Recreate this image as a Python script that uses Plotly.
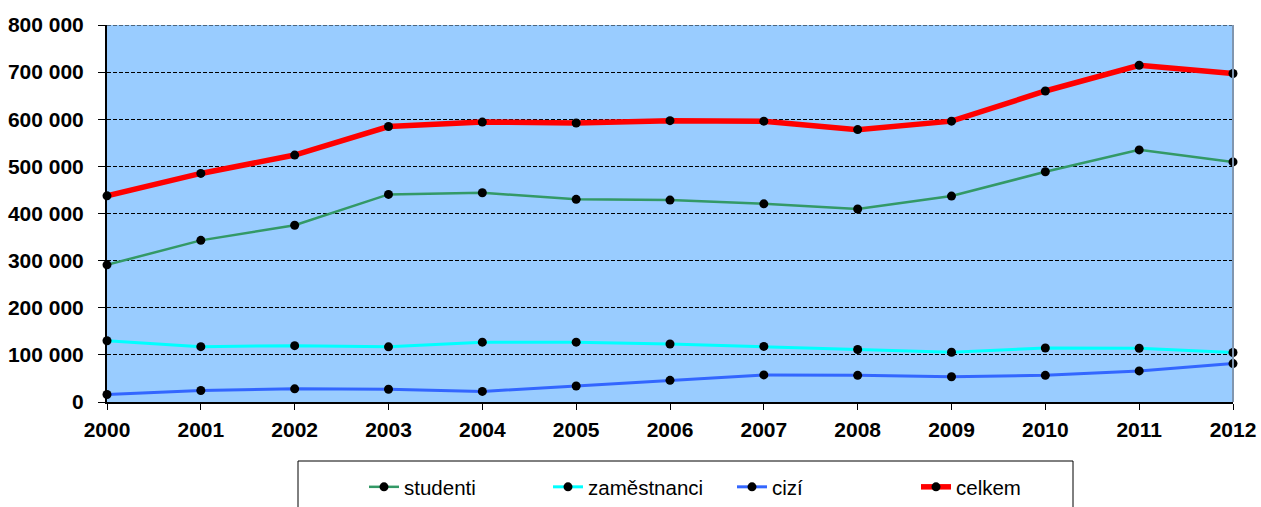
import plotly.graph_objects as go

years = [2000, 2001, 2002, 2003, 2004, 2005, 2006, 2007, 2008, 2009, 2010, 2011, 2012]
studenti = [291000, 343000, 375000, 440500, 444000, 430000, 428500, 420500, 409500, 437000, 488500, 535000, 509500]
zamestnanci = [130000, 117500, 119500, 117000, 127000, 127000, 123000, 118000, 111500, 105500, 114500, 114000, 105000]
cizi = [16000, 24500, 28000, 27000, 22500, 34000, 46000, 57500, 56500, 53500, 56500, 66000, 81500]
celkem = [437500, 485000, 524000, 584500, 594000, 592000, 597000, 596000, 578000, 596000, 660000, 714500, 697000]

y_ticks = [0, 100000, 200000, 300000, 400000, 500000, 600000, 700000, 800000]
y_labels = ["0", "100 000", "200 000", "300 000", "400 000", "500 000", "600 000", "700 000", "800 000"]

series = [
    ("studenti", studenti, "#339966", 2.5),
    ("zaměstnanci", zamestnanci, "#00FFFF", 3),
    ("cizí", cizi, "#3366FF", 3),
    ("celkem", celkem, "#FF0000", 5.5),
]

fig = go.Figure()
for name, vals, col, w in series:
    fig.add_trace(go.Scatter(
        x=years, y=vals, name=name, mode="lines+markers",
        line=dict(color=col, width=w),
        marker=dict(color="black", size=9),
        cliponaxis=False,
    ))

font = "Liberation Sans, Arial, sans-serif"
W, H = 1126, 377
fig.update_layout(
    width=1261, height=507,
    margin=dict(l=107, r=28, t=25, b=105, autoexpand=False),
    paper_bgcolor="white",
    plot_bgcolor="#99CCFF",
    showlegend=True,
    legend=dict(
        orientation="h", x=(364 - 107) / W, xanchor="left", y=(402 - 487) / H, yanchor="middle",
        font=dict(family=font, size=20.5, color="black"),
        entrywidth=139, entrywidthmode="pixels",
        bgcolor="rgba(0,0,0,0)",
        itemclick=False,
    ),
    xaxis=dict(
        range=[2000, 2012], tickmode="array", tickvals=years,
        ticktext=[str(y) for y in years],
        showgrid=False, zeroline=False, automargin=False,
        showline=True, linecolor="black", linewidth=2,
        ticks="outside", ticklen=6, tickcolor="black", tickwidth=1,
        tickfont=dict(family=font, size=21, color="black", weight="bold"),
        ticklabelstandoff=2,
    ),
    yaxis=dict(
        range=[0, 800000], tickmode="array", tickvals=y_ticks, ticktext=y_labels,
        showgrid=True, gridcolor="black", gridwidth=1, griddash="4px,2px",
        zeroline=False, automargin=False,
        showline=True, linecolor="black", linewidth=2,
        ticks="outside", ticklen=7, tickcolor="black", tickwidth=1,
        tickfont=dict(family=font, size=21, color="black", weight="bold"),
        ticklabelstandoff=10,
    ),
    shapes=[
        dict(type="line", xref="paper", yref="y", x0=0, x1=1, y0=y_ticks[-1], y1=y_ticks[-1],
             line=dict(color="black", width=1, dash="4px,2px"), layer="below"),
        dict(type="line", xref="paper", yref="paper", x0=1, x1=1, y0=0, y1=1,
             line=dict(color="#8096B0", width=2)),
        dict(type="rect", xref="paper", yref="paper",
             x0=(298 - 107) / W, x1=(1073 - 107) / W,
             y0=(402 - 515) / H, y1=(402 - 461) / H,
             line=dict(color="black", width=1), fillcolor="rgba(0,0,0,0)", layer="below"),
    ],
)

fig.write_html(
    "out.html",
    config={"displayModeBar": False},
    post_script="document.body.style.margin='0';document.body.style.overflow='hidden';",
)
